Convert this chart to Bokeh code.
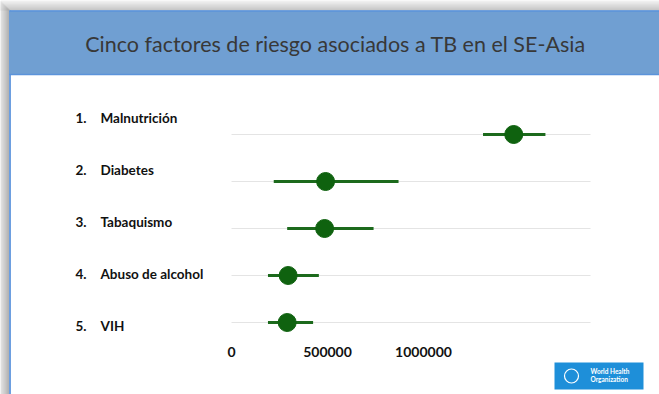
from bokeh.plotting import figure
from bokeh.models import Range1d, ColumnDataSource
from bokeh.core.properties import value
from bokeh.embed import file_html
from bokeh.resources import INLINE

# --- data -------------------------------------------------------------
title_text = "Cinco factores de riesgo asociados a TB en el SE-Asia"
ranks = [1, 2, 3, 4, 5]
factors = ["Malnutrición", "Diabetes", "Tabaquismo", "Abuso de alcohol", "VIH"]
estimate = [1470000, 490000, 485000, 295000, 290000]
low = [1310000, 220000, 290000, 190000, 190000]
high = [1635000, 870000, 740000, 455000, 425000]
tick_values = [0, 500000, 1000000]
tick_labels = ["0", "500000", "1000000"]
axis_max = 1870000

W, H = 659, 394
FONT = value("Lato")

# --- layout geometry (pixels on the page) ------------------------------
zero_px, px_per_million = 231, 192.0
row_top_px, row_step_px = 134, 47
lab_top_px, lab_step_px = 117, 52

p = figure(width=W, height=H, x_range=Range1d(0, W), y_range=Range1d(H, 0),
           x_axis_type=None, y_axis_type=None, toolbar_location=None,
           tools="", output_backend="svg", min_border=0)
p.outline_line_color = None
p.background_fill_color = "white"
p.border_fill_color = "white"

units_per_px = 1e6 / px_per_million
p.extra_x_ranges = {"val": Range1d(-zero_px * units_per_px, (W - zero_px) * units_per_px)}
p.extra_y_ranges = {
    "rows": Range1d(1 + (H - row_top_px) / row_step_px, 1 - row_top_px / row_step_px),
    "lab": Range1d(1 + (H - lab_top_px) / lab_step_px, 1 - lab_top_px / lab_step_px),
}

# --- slide frame with soft shadow --------------------------------------
def mix(c0, c1, t):
    return "#%02x%02x%02x" % tuple(int(round(a + (b - a) * t)) for a, b in zip(c0, c1))

p.quad(left=0, right=W, top=0, bottom=H, fill_color="#e6e6e6", line_color=None)
for i in range(10):
    p.quad(left=0, right=W, top=i, bottom=i + 1,
           fill_color=mix((246, 246, 246), (188, 188, 188), i / 9), line_color=None)
for i in range(9):
    p.quad(left=i, right=i + 1, top=i + 1, bottom=H,
           fill_color=mix((226, 226, 226), (160, 160, 160), i / 8), line_color=None)
p.quad(left=9, right=W, top=10, bottom=H, fill_color="white", line_color=None)
p.segment(x0=[9.5], y0=[10], x1=[9.5], y1=[H], line_color="#6d9fe0", line_width=2)

# header band
p.quad(left=9, right=W, top=10, bottom=74, fill_color="#709fd2", line_color=None)
p.segment(x0=[9, 9], y0=[10.5, 74], x1=[W, W], y1=[10.5, 74], line_color="#5b93da", line_width=1.5)
p.text(x=[335], y=[43], text=[title_text], text_font=FONT, text_font_size="21.5px",
       text_color="#383838", text_align="center", text_baseline="middle")

# --- row labels --------------------------------------------------------
lab_src = ColumnDataSource(dict(rank=ranks, num=[f"{r}." for r in ranks], name=factors))
p.text(x=75, y="rank", text="num", source=lab_src, y_range_name="lab",
       text_font=FONT, text_font_style="bold", text_font_size="13.5px",
       text_color="#111111", text_baseline="middle", text_align="left")
p.text(x=100, y="rank", text="name", source=lab_src, y_range_name="lab",
       text_font=FONT, text_font_style="bold", text_font_size="13.5px",
       text_color="#111111", text_baseline="middle", text_align="left")

# --- dot plot ----------------------------------------------------------
src = ColumnDataSource(dict(rank=ranks, est=estimate, lo=low, hi=high,
                            zero=[0] * len(ranks), top=[axis_max] * len(ranks)))
p.segment(x0="zero", x1="top", y0="rank", y1="rank", source=src,
          x_range_name="val", y_range_name="rows", line_color="#e4e4e4", line_width=1)
p.segment(x0="lo", x1="hi", y0="rank", y1="rank", source=src,
          x_range_name="val", y_range_name="rows", line_color="#1c6a1c", line_width=3)
p.scatter(x="est", y="rank", source=src, x_range_name="val", y_range_name="rows",
          size=18, fill_color="#0f620f", line_color="#0f620f")

# x tick labels
tick_src = ColumnDataSource(dict(x=tick_values, label=tick_labels, y=[351] * len(tick_values)))
p.text(x="x", y="y", text="label", source=tick_src, x_range_name="val",
       text_font=FONT, text_font_style="bold", text_font_size="14px",
       text_color="#111111", text_align="center", text_baseline="middle")

# --- organisation badge ------------------------------------------------
p.quad(left=554, right=643, top=362, bottom=389, fill_color="#1e8fd9", line_color=None)
p.circle(x=[571], y=[375.5], radius=7, fill_color=None, line_color="white", line_width=1.2)
p.text(x=[590, 590], y=[371, 379], text=["World Health", "Organization"],
       text_font=FONT, text_font_size="6.5px", text_font_style="bold",
       text_color="white", text_align="left", text_baseline="middle")

open("out.html", "w").write(file_html(p, INLINE))
